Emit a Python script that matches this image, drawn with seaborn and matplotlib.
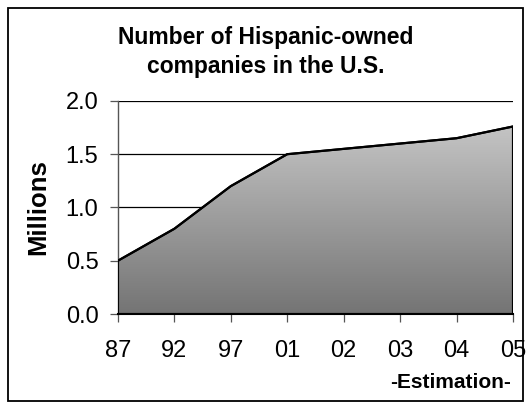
import numpy as np
import pandas as pd
import matplotlib
matplotlib.use("Agg")
import matplotlib.pyplot as plt
import seaborn as sns
from matplotlib.patches import Rectangle
from matplotlib.colors import LinearSegmentedColormap

years = ["87", "92", "97", "01", "02", "03", "04", "05"]
millions = [0.5, 0.8, 1.2, 1.5, 1.55, 1.6, 1.65, 1.76]
y_ticks = [0.0, 0.5, 1.0, 1.5, 2.0]

df = pd.DataFrame({"year": years, "value": millions})
df["pos"] = np.arange(len(years))

sns.set_theme(style="white")
plt.rcParams["font.family"] = ["Liberation Sans", "DejaVu Sans"]

fig = plt.figure(figsize=(5.31, 4.07), dpi=100)
ax = fig.add_axes([0.222, 0.2285, 0.744, 0.5235])

# gradient area
poly = ax.fill_between(df["pos"], 0, df["value"], facecolor="none", edgecolor="black", linewidth=1.5, zorder=3)
cmap = LinearSegmentedColormap.from_list("g", ["#747474", "#c4c4c4"])
grad = np.linspace(0, 1, 256).reshape(-1, 1)
img = ax.imshow(grad, cmap=cmap, aspect="auto", origin="lower",
                extent=[0, len(years) - 1, 0, max(millions)], zorder=2)
path = poly.get_paths()[0]
img.set_clip_path(path, transform=ax.transData)

sns.lineplot(data=df, x="pos", y="value", color="black", linewidth=1.6, ax=ax, zorder=4)

ax.set_xlim(0, len(years) - 1)
ax.set_ylim(0, 2.0)
ax.set_yticks(y_ticks)
ax.set_yticklabels([f"{v:.1f}" for v in y_ticks])
ax.set_xticks(df["pos"])
ax.set_xticklabels(years)

ax.yaxis.grid(True, color="black", linewidth=0.9, zorder=1)
ax.set_axisbelow(True)
for s in ["top", "right"]:
    ax.spines[s].set_visible(False)
ax.spines["left"].set_color("#555555")
ax.spines["left"].set_linewidth(1.0)
ax.spines["bottom"].set_color("black")
ax.spines["bottom"].set_linewidth(1.5)

ax.tick_params(axis="y", left=True, length=6, width=0.9, color="#555555",
               labelsize=17, pad=8, labelcolor="black")
ax.tick_params(axis="x", bottom=True, length=6, width=0.9, color="#555555",
               labelsize=17, pad=13, labelcolor="black")

ax.set_xlabel("")
ax.set_ylabel("Millions", fontsize=18.5, fontweight="bold", labelpad=11, color="black")

fig.text(0.5, 0.872, "Number of Hispanic-owned\ncompanies in the U.S.",
         ha="center", va="center", fontsize=16.5, fontweight="bold",
         linespacing=1.3, color="black")
fig.text(0.963, 0.059, "-Estimation-", ha="right", va="center",
         fontsize=15, fontweight="bold", color="black")

fig.patches.append(Rectangle((0.015, 0.015), 0.97, 0.965, transform=fig.transFigure,
                             fill=False, edgecolor="black", linewidth=1.3))

fig.savefig("out.png", dpi=100)
